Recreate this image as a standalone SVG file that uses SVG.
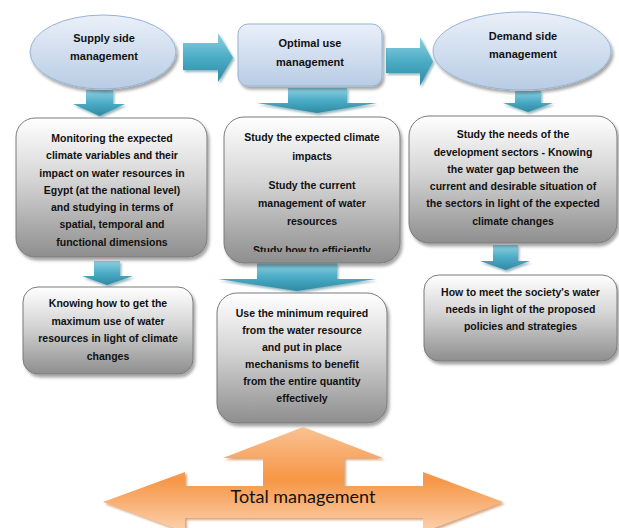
<svg xmlns="http://www.w3.org/2000/svg" width="619" height="528" viewBox="0 0 619 528">
  <defs>
    <linearGradient id="gBlue" x1="0" y1="0" x2="0" y2="1">
      <stop offset="0" stop-color="#eaf0f9"/>
      <stop offset="1" stop-color="#b8cce4"/>
    </linearGradient>
    <linearGradient id="gGray" x1="0" y1="0" x2="0" y2="1">
      <stop offset="0" stop-color="#ffffff"/>
      <stop offset="0.45" stop-color="#d4d4d4"/>
      <stop offset="1" stop-color="#8e8e8e"/>
    </linearGradient>
    <linearGradient id="gTeal" x1="0" y1="0" x2="0" y2="1">
      <stop offset="0" stop-color="#8fd0e1"/>
      <stop offset="0.5" stop-color="#4bacc6"/>
      <stop offset="1" stop-color="#2e8aa2"/>
    </linearGradient>
    <linearGradient id="gOrange" x1="0" y1="0" x2="0" y2="1">
      <stop offset="0" stop-color="#f9c293"/>
      <stop offset="0.5" stop-color="#f79646"/>
      <stop offset="1" stop-color="#fbd2b0"/>
    </linearGradient>
    <filter id="shadow" x="-10%" y="-10%" width="125%" height="130%">
      <feDropShadow dx="2" dy="3" stdDeviation="1.8" flood-color="#000" flood-opacity="0.35"/>
    </filter>
    <filter id="shadowSoft" x="-10%" y="-10%" width="125%" height="130%">
      <feDropShadow dx="1.5" dy="2" stdDeviation="1.2" flood-color="#1f5f70" flood-opacity="0.45"/>
    </filter>
    <filter id="shadowOrange" x="-10%" y="-10%" width="125%" height="130%">
      <feDropShadow dx="2" dy="2" stdDeviation="1.2" flood-color="#b85b14" flood-opacity="0.55"/>
    </filter>
    <clipPath id="clipB">
      <rect x="224" y="117" width="176" height="135"/>
    </clipPath>
  </defs>
  <style>
    .head { fill: url(#gBlue); stroke: #95b3d7; stroke-width: 1; filter: url(#shadow); }
    .box { fill: url(#gGray); stroke: #7a7a7a; stroke-width: 1; filter: url(#shadow); }
    .arrow { fill: url(#gTeal); filter: url(#shadowSoft); }
    .t { font-family: "Liberation Sans", Arial, sans-serif; font-weight: bold; font-size: 10.5px; fill: #111; text-anchor: middle; }
    .ht { font-family: "Liberation Sans", Arial, sans-serif; font-weight: bold; font-size: 11px; fill: #111; text-anchor: middle; }
    .big { font-family: Lato, "Liberation Sans", sans-serif; font-size: 18px; fill: #111; text-anchor: middle; }
  </style>

  <!-- connectors: block arrows -->
  <g id="connectors">
    <path class="arrow" d="M183,43 H218 V33 L233,57.5 L218,82 V70 H183 Z"/>
    <path class="arrow" d="M386,48 H420 V37 L433,61.5 L420,86 V73 H386 Z"/>
    <path class="arrow" d="M86,90 H113 V104 H125 L99.5,116 L73,104 H86 Z"/>
    <path class="arrow" d="M288,88 H347 V103 H377 L317,113 L257,103 H288 Z"/>
    <path class="arrow" d="M515,91 H541 V103 H553 L528,112 L503,103 H515 Z"/>
    <path class="arrow" d="M94,261 H120 V276 H133 L107,285 L82,276 H94 Z"/>
    <path class="arrow" d="M257,263 H337 V279 H376 L297,291 L218,279 H257 Z"/>
    <path class="arrow" d="M493,245 H518 V261 H530 L505.5,270 L480,261 H493 Z"/>
  </g>

  <g id="supply">
    <ellipse class="head" cx="103" cy="52" rx="73" ry="37"/>
    <text class="ht" x="104" y="42">Supply side</text>
    <text class="ht" x="104" y="60">management</text>
  </g>

  <g id="optimal">
    <rect class="head" x="238" y="24" width="144" height="62" rx="10"/>
    <text class="ht" x="310" y="47">Optimal use</text>
    <text class="ht" x="310" y="66">management</text>
  </g>

  <g id="demand">
    <ellipse class="head" cx="522" cy="51" rx="89" ry="39"/>
    <text class="ht" x="523" y="40">Demand side</text>
    <text class="ht" x="523" y="58">management</text>
  </g>

  <g id="monitoring">
    <rect class="box" x="16" y="118" width="191" height="139" rx="19"/>
    <text class="t" x="112" y="142">Monitoring the expected</text>
    <text class="t" x="112" y="159">climate variables and their</text>
    <text class="t" x="112" y="176.5">impact on water resources in</text>
    <text class="t" x="112" y="194">Egypt (at the national level)</text>
    <text class="t" x="112" y="211">and studying in terms of</text>
    <text class="t" x="112" y="228">spatial, temporal and</text>
    <text class="t" x="112" y="245.5">functional dimensions</text>
  </g>

  <g id="study-impacts">
    <rect class="box" x="224" y="117" width="176" height="146" rx="20"/>
    <g clip-path="url(#clipB)">
      <text class="t" x="312" y="141">Study the expected climate</text>
      <text class="t" x="312" y="160">impacts</text>
      <text class="t" x="312" y="189">Study the current</text>
      <text class="t" x="312" y="207">management of water</text>
      <text class="t" x="312" y="225">resources</text>
      <text class="t" x="312" y="254">Study how to efficiently</text>
    </g>
  </g>

  <g id="study-needs">
    <rect class="box" x="409" y="116" width="208" height="127" rx="20"/>
    <text class="t" x="513" y="138">Study the needs of the</text>
    <text class="t" x="513" y="155.5">development sectors - Knowing</text>
    <text class="t" x="513" y="173">the water gap between the</text>
    <text class="t" x="513" y="190">current and desirable situation of</text>
    <text class="t" x="513" y="207">the sectors in light of the expected</text>
    <text class="t" x="513" y="224.5">climate changes</text>
  </g>

  <g id="max-use">
    <rect class="box" x="23" y="287" width="170" height="87" rx="15"/>
    <text class="t" x="108" y="307">Knowing how to get the</text>
    <text class="t" x="108" y="324.5">maximum use of water</text>
    <text class="t" x="108" y="342">resources in light of climate</text>
    <text class="t" x="108" y="360">changes</text>
  </g>

  <g id="minimum">
    <rect class="box" x="217" y="293" width="170" height="130" rx="20"/>
    <text class="t" x="302" y="316.5">Use the minimum required</text>
    <text class="t" x="302" y="334">from the water resource</text>
    <text class="t" x="302" y="351">and put in place</text>
    <text class="t" x="302" y="368">mechanisms to benefit</text>
    <text class="t" x="302" y="385">from the entire quantity</text>
    <text class="t" x="302" y="402">effectively</text>
  </g>

  <g id="society">
    <rect class="box" x="424" y="275" width="193" height="86" rx="15"/>
    <text class="t" x="520.5" y="295.5">How to meet the society's water</text>
    <text class="t" x="520.5" y="313">needs in light of the proposed</text>
    <text class="t" x="520.5" y="330">policies and strategies</text>
  </g>

  <g id="total">
    <path fill="url(#gOrange)" filter="url(#shadowOrange)" d="M103,502 L185,472 V486 H263 V458 H223 L303,427 L383,458 H344 V486 H423 V472 L503,502 L423,532 V518 H185 V532 Z"/>
    <text class="big" x="303" y="503">Total management</text>
  </g>
</svg>
